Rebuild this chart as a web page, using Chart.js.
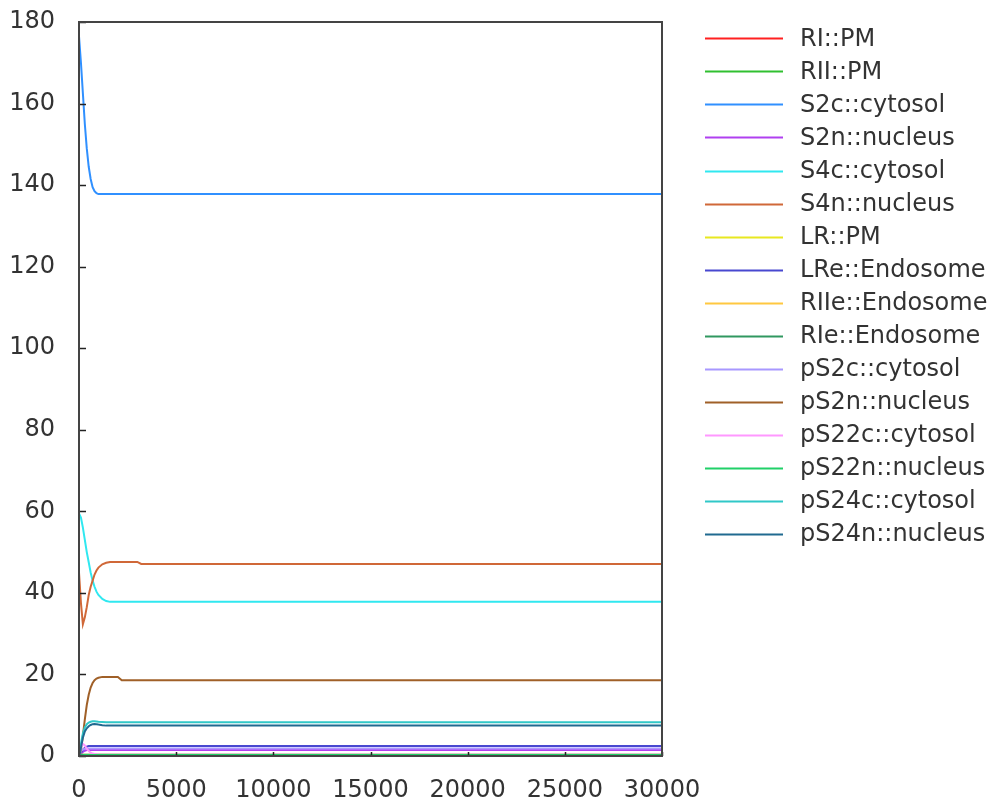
<!DOCTYPE html>
<html>
<head>
<meta charset="utf-8">
<script src="https://cdn.jsdelivr.net/npm/chart.js@4"></script>
<style>
  html, body { margin: 0; padding: 0; background: #ffffff; }
  #wrap { width: 1003px; height: 804px; position: relative; }
</style>
</head>
<body>
<div id="wrap"><canvas id="c" width="1003" height="804"></canvas></div>
<script>
// ---- data ----
const times = [0, 100, 200, 300, 400, 500, 600, 700, 800, 900, 1000, 1200, 1400, 1600, 1800, 2000, 2200, 3000, 3200, 5000, 10000, 15000, 20000, 25000, 30000];

const seriesNames = ["RI::PM", "RII::PM", "S2c::cytosol", "S2n::nucleus", "S4c::cytosol", "S4n::nucleus", "LR::PM", "LRe::Endosome", "RIIe::Endosome", "RIe::Endosome", "pS2c::cytosol", "pS2n::nucleus", "pS22c::cytosol", "pS22n::nucleus", "pS24c::cytosol", "pS24n::nucleus"];

const seriesColors = ["#ff2020", "#30c030", "#3090ff", "#b040f0", "#30e8f0", "#d06838", "#e8e820", "#4848d0", "#ffc840", "#309860", "#a898ff", "#a06028", "#ff98ff", "#20d068", "#30c8c8", "#206a90"];

const RI_PM        = [0.3, 0.2, 0.15, 0.15, 0.15, 0.15, 0.15, 0.15, 0.15, 0.15, 0.15, 0.15, 0.15, 0.15, 0.15, 0.15, 0.15, 0.15, 0.15, 0.15, 0.15, 0.15, 0.15, 0.15, 0.15];
const RII_PM       = [0.4, 0.3, 0.25, 0.2, 0.2, 0.2, 0.2, 0.2, 0.2, 0.2, 0.2, 0.2, 0.2, 0.2, 0.2, 0.2, 0.2, 0.2, 0.2, 0.2, 0.2, 0.2, 0.2, 0.2, 0.2];
const S2c_cytosol  = [176.5, 170, 162.5, 155, 149, 144.5, 141.5, 139.5, 138.5, 138, 137.8, 137.8, 137.8, 137.8, 137.8, 137.8, 137.8, 137.8, 137.8, 137.8, 137.8, 137.8, 137.8, 137.8, 137.8];
const S2n_nucleus  = [0, 0.5, 1.0, 1.3, 1.45, 1.5, 1.5, 1.5, 1.5, 1.5, 1.5, 1.5, 1.5, 1.5, 1.5, 1.5, 1.5, 1.5, 1.5, 1.5, 1.5, 1.5, 1.5, 1.5, 1.5];
const S4c_cytosol  = [59.5, 58.5, 56, 53, 50, 47.5, 45, 43, 41.5, 40.3, 39.5, 38.5, 38, 37.8, 37.8, 37.8, 37.8, 37.8, 37.8, 37.8, 37.8, 37.8, 37.8, 37.8, 37.8];
const S4n_nucleus  = [45, 37.5, 32.3, 34, 36.5, 39.5, 41.5, 43, 44.5, 45.5, 46.2, 47, 47.4, 47.6, 47.6, 47.6, 47.6, 47.6, 47.1, 47.1, 47.1, 47.1, 47.1, 47.1, 47.1];
const LR_PM        = [0.6, 0.4, 0.25, 0.15, 0.1, 0.1, 0.1, 0.1, 0.1, 0.1, 0.1, 0.1, 0.1, 0.1, 0.1, 0.1, 0.1, 0.1, 0.1, 0.1, 0.1, 0.1, 0.1, 0.1, 0.1];
const LRe_Endosome = [0, 0.8, 1.5, 2.0, 2.3, 2.45, 2.45, 2.45, 2.45, 2.45, 2.45, 2.45, 2.45, 2.45, 2.45, 2.45, 2.45, 2.45, 2.45, 2.45, 2.45, 2.45, 2.45, 2.45, 2.45];
const RIIe_Endosome= [0, 0.3, 0.3, 0.3, 0.3, 0.3, 0.3, 0.3, 0.3, 0.3, 0.3, 0.3, 0.3, 0.3, 0.3, 0.3, 0.3, 0.3, 0.3, 0.3, 0.3, 0.3, 0.3, 0.3, 0.3];
const RIe_Endosome = [0, 0.25, 0.3, 0.3, 0.3, 0.3, 0.3, 0.3, 0.3, 0.3, 0.3, 0.3, 0.3, 0.3, 0.3, 0.3, 0.3, 0.3, 0.3, 0.3, 0.3, 0.3, 0.3, 0.3, 0.3];
const pS2c_cytosol = [0, 1.2, 1.6, 1.8, 1.85, 1.85, 1.85, 1.85, 1.85, 1.85, 1.85, 1.85, 1.85, 1.85, 1.85, 1.85, 1.85, 1.85, 1.85, 1.85, 1.85, 1.85, 1.85, 1.85, 1.85];
const pS2n_nucleus = [0, 1.5, 5, 9, 12.5, 15, 16.8, 17.9, 18.6, 19, 19.2, 19.4, 19.4, 19.4, 19.4, 19.4, 18.6, 18.6, 18.6, 18.6, 18.6, 18.6, 18.6, 18.6, 18.6];
const pS22c_cytosol= [0, 2.0, 3.0, 2.6, 1.8, 1.2, 0.8, 0.6, 0.5, 0.4, 0.35, 0.3, 0.3, 0.3, 0.3, 0.3, 0.3, 0.3, 0.3, 0.3, 0.3, 0.3, 0.3, 0.3, 0.3];
const pS22n_nucleus= [0, 0.1, 0.2, 0.25, 0.25, 0.25, 0.25, 0.25, 0.25, 0.25, 0.25, 0.25, 0.25, 0.25, 0.25, 0.25, 0.25, 0.25, 0.25, 0.25, 0.25, 0.25, 0.25, 0.25, 0.25];
const pS24c_cytosol= [0, 3, 5.5, 7, 7.8, 8.2, 8.4, 8.5, 8.5, 8.45, 8.4, 8.35, 8.3, 8.3, 8.3, 8.3, 8.3, 8.3, 8.3, 8.3, 8.3, 8.3, 8.3, 8.3, 8.3];
const pS24n_nucleus= [0, 2, 4.5, 6, 6.8, 7.3, 7.6, 7.8, 7.85, 7.8, 7.7, 7.55, 7.45, 7.45, 7.45, 7.45, 7.45, 7.45, 7.45, 7.45, 7.45, 7.45, 7.45, 7.45, 7.45];

const seriesValues = [RI_PM, RII_PM, S2c_cytosol, S2n_nucleus, S4c_cytosol, S4n_nucleus, LR_PM, LRe_Endosome, RIIe_Endosome, RIe_Endosome, pS2c_cytosol, pS2n_nucleus, pS22c_cytosol, pS22n_nucleus, pS24c_cytosol, pS24n_nucleus];

const xTicks = [0, 5000, 10000, 15000, 20000, 25000, 30000];
const yTicks = [0, 20, 40, 60, 80, 100, 120, 140, 160, 180];

// ---- chart ----
const FONT = "'DejaVu Sans', sans-serif";
const FSIZE = 24;
const TEXT = "#333333";
const FRAME = "#444444";

const datasets = seriesNames.map((name, i) => ({
  label: name,
  data: times.map((t, k) => ({ x: t, y: seriesValues[i][k] })),
  borderColor: seriesColors[i],
  backgroundColor: seriesColors[i],
  borderWidth: 2,
  pointRadius: 0,
  showLine: true,
  tension: 0,
  order: -i
}));

const framePlugin = {
  id: 'frame',
  afterDatasetsDraw(chart) {
    const { ctx, chartArea: a, scales } = chart;
    ctx.save();
    ctx.strokeStyle = "#222";
    ctx.lineWidth = 1.5;
    yTicks.forEach(v => {
      const y = Math.round(scales.y.getPixelForValue(v)) + 0.5;
      ctx.beginPath(); ctx.moveTo(a.left, y); ctx.lineTo(a.left + 7, y); ctx.stroke();
    });
    xTicks.forEach(v => {
      const x = Math.round(scales.x.getPixelForValue(v)) + 0.5;
      ctx.beginPath(); ctx.moveTo(x, a.bottom); ctx.lineTo(x, a.bottom - 4); ctx.stroke();
    });
    ctx.strokeStyle = FRAME;
    ctx.lineWidth = 2;
    ctx.strokeRect(a.left, a.top, a.right - a.left, a.bottom - a.top);
    ctx.restore();
  },
  afterDraw(chart) {
    const { ctx } = chart;
    ctx.save();
    ctx.font = FSIZE + "px " + FONT;
    ctx.textBaseline = "middle";
    ctx.textAlign = "left";
    chart.data.datasets.forEach((ds, i) => {
      const y = 38.3 + i * 33.05;
      ctx.strokeStyle = ds.borderColor;
      ctx.lineWidth = 2;
      ctx.beginPath();
      ctx.moveTo(705, Math.round(y) + 0.5);
      ctx.lineTo(783, Math.round(y) + 0.5);
      ctx.stroke();
      ctx.fillStyle = TEXT;
      ctx.fillText(ds.label, 800, y + 1);
    });
    ctx.restore();
  }
};

new Chart(document.getElementById('c'), {
  type: 'scatter',
  data: { datasets },
  options: {
    responsive: false,
    animation: false,
    layout: { padding: { left: 0, right: 341, top: 22, bottom: 0 } },
    plugins: { legend: { display: false }, tooltip: { enabled: false } },
    scales: {
      x: {
        type: 'linear', min: 0, max: 30000,
        afterBuildTicks: s => { s.ticks = xTicks.map(v => ({ value: v })); },
        afterFit: s => { s.height = 48; s.paddingLeft = 0; s.paddingRight = 0; },
        grid: { display: false, drawTicks: false },
        border: { display: false },
        ticks: { color: TEXT, font: { family: FONT, size: FSIZE }, padding: 20, maxRotation: 0, autoSkip: false,
                 callback: v => String(v) }
      },
      y: {
        type: 'linear', min: 0, max: 180,
        afterBuildTicks: s => { s.ticks = yTicks.map(v => ({ value: v })); },
        afterFit: s => { s.width = 79; s.paddingTop = 0; s.paddingBottom = 0; },
        grid: { display: false, drawTicks: false },
        border: { display: false },
        ticks: { color: TEXT, font: { family: FONT, size: FSIZE }, padding: 24, autoSkip: false,
                 callback: v => String(v) }
      }
    }
  },
  plugins: [framePlugin]
});
</script>
</body>
</html>
